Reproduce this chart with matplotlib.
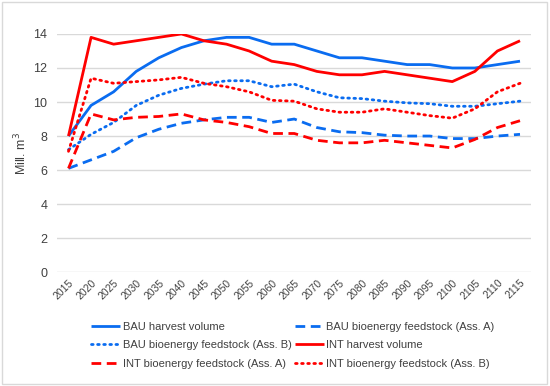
import matplotlib
matplotlib.use("Agg")
import matplotlib.pyplot as plt
from matplotlib.patches import Rectangle

plt.rcParams["font.family"] = ["Liberation Sans", "DejaVu Sans"]

years = [str(y) for y in range(2015, 2120, 5)]
bau_harvest = [8.0, 9.8, 10.6, 11.8, 12.6, 13.2, 13.6, 13.8, 13.8, 13.4, 13.4, 13.0, 12.6, 12.6, 12.4, 12.2, 12.2, 12.0, 12.0, 12.2, 12.4]
bau_feed_a = [6.1, 6.6, 7.1, 7.9, 8.4, 8.75, 8.95, 9.1, 9.1, 8.8, 9.0, 8.5, 8.25, 8.2, 8.05, 8.0, 8.0, 7.85, 7.85, 8.0, 8.1]
bau_feed_b = [7.2, 8.1, 8.8, 9.8, 10.4, 10.8, 11.05, 11.25, 11.25, 10.9, 11.05, 10.6, 10.25, 10.2, 10.05, 9.95, 9.9, 9.75, 9.75, 9.9, 10.05]
int_harvest = [8.0, 13.8, 13.4, 13.6, 13.8, 14.0, 13.6, 13.4, 13.0, 12.4, 12.2, 11.8, 11.6, 11.6, 11.8, 11.6, 11.4, 11.2, 11.8, 13.0, 13.6]
int_feed_a = [6.1, 9.3, 8.95, 9.1, 9.15, 9.3, 8.95, 8.8, 8.55, 8.15, 8.15, 7.75, 7.6, 7.6, 7.75, 7.6, 7.45, 7.3, 7.8, 8.5, 8.9]
int_feed_b = [7.1, 11.4, 11.1, 11.2, 11.3, 11.45, 11.1, 10.9, 10.6, 10.1, 10.05, 9.6, 9.4, 9.4, 9.6, 9.4, 9.2, 9.05, 9.6, 10.6, 11.1]
yticks = [0, 2, 4, 6, 8, 10, 12, 14]

BLUE = "#0A6CF0"
RED = "#FF0000"
TXT = "#404040"

fig = plt.figure(figsize=(5.5, 3.86), dpi=100)
fig.patches.append(Rectangle((0.004, 0.004), 0.99, 0.99, transform=fig.transFigure,
                             fill=False, edgecolor="#D9D9D9", linewidth=1.0))
ax = fig.add_axes([0.104, 0.295, 0.862, 0.617])
x = list(range(len(years)))
lw = 2.0
DASH = (0, (3.5, 2))
DOT = (0, (0.6, 1.6))
series = [
    (bau_harvest, BLUE, "-", "BAU harvest volume"),
    (bau_feed_a, BLUE, DASH, "BAU bioenergy feedstock (Ass. A)"),
    (bau_feed_b, BLUE, DOT, "BAU bioenergy feedstock (Ass. B)"),
    (int_harvest, RED, "-", "INT harvest volume"),
    (int_feed_a, RED, DASH, "INT bioenergy feedstock (Ass. A)"),
    (int_feed_b, RED, DOT, "INT bioenergy feedstock (Ass. B)"),
]
handles = []
for vals, c, ls, lab in series:
    ln, = ax.plot(x, vals, color=c, linestyle=ls, linewidth=lw, label=lab,
                  solid_capstyle="butt",
                  dash_capstyle="round" if ls is DOT else "butt")
    handles.append(ln)

ax.set_xlim(-0.5, len(years) - 0.5)
ax.set_ylim(0, 14)
ax.set_yticks(yticks)
ax.set_yticklabels([str(v) for v in yticks], fontsize=9, color=TXT)
ax.set_xticks(x)
ax.set_xticklabels(years, rotation=45, fontsize=7.5, color=TXT, ha="right",
                   rotation_mode="anchor")
ax.tick_params(axis="both", length=0)
ax.tick_params(axis="x", pad=4)
ax.tick_params(axis="y", pad=7)
ax.grid(axis="y", color="#D9D9D9", linewidth=1.0)
ax.set_axisbelow(True)
for s in ax.spines.values():
    s.set_visible(False)
ax.set_ylabel("Mill. m$^3$", fontsize=9, color=TXT, labelpad=3)

# row-major ordering like the reference (matplotlib fills columns first)
order = [0, 2, 4, 1, 3, 5]
fig.legend([handles[i] for i in order], [series[i][3] for i in order],
           loc="upper left", bbox_to_anchor=(0.148, 0.192), ncol=2, frameon=False,
           fontsize=8, handlelength=2.6, handletextpad=0.2, columnspacing=0.3,
           labelspacing=0.75, labelcolor=TXT)
fig.savefig("out.png", dpi=100)
